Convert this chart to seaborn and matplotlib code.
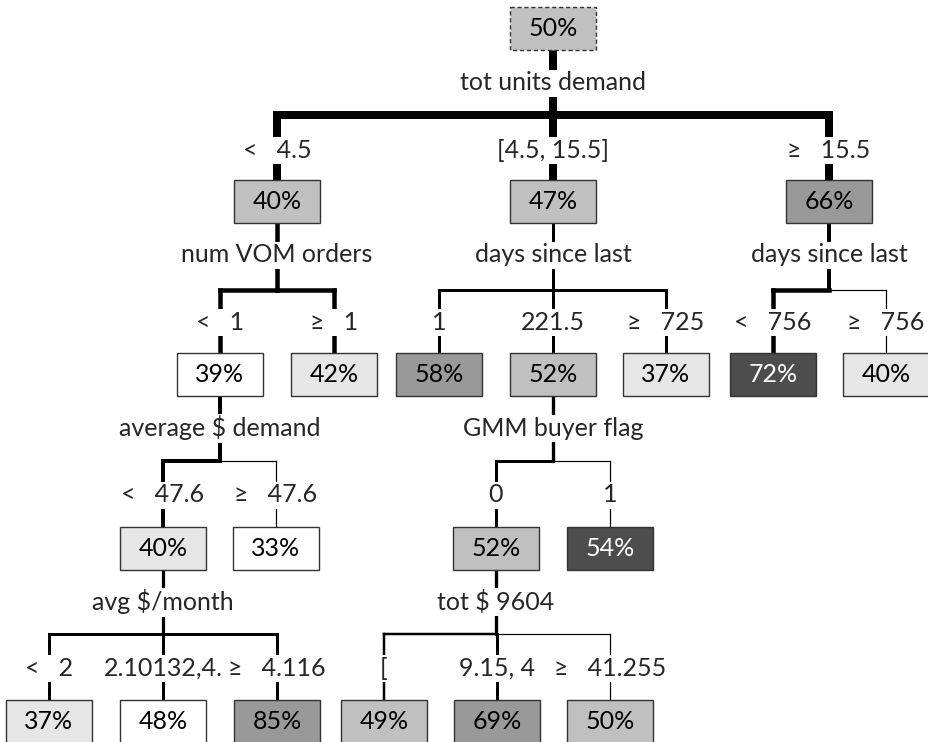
import matplotlib
matplotlib.use("Agg")
import matplotlib.pyplot as plt
from matplotlib.patches import Rectangle
import pandas as pd
import seaborn as sns

# 树的数据：每个节点的百分比、父节点、分支标签
node_pct = [50, 40, 47, 66, 39, 42, 58, 52, 37, 72, 40, 40, 33, 52, 54, 37, 48, 85, 49, 69, 50]
node_parent = [-1, 0, 0, 0, 1, 1, 2, 2, 2, 3, 3, 4, 4, 7, 7, 11, 11, 11, 13, 13, 13]
edge_labels = ["", "<   4.5", "[4.5, 15.5]", "\u2265   15.5", "<   1", "\u2265   1",
               "1", "221.5", "\u2265   725", "<   756", "\u2265   756",
               "<   47.6", "\u2265   47.6", "0", "1",
               "<   2", "2.10132,4.", "\u2265   4.116", "[", "9.15, 4", "\u2265   41.255"]
split_nodes = [0, 1, 2, 3, 4, 7, 11, 13]
split_names = ["tot units demand", "num VOM orders", "days since last", "days since last",
               "average $ demand", "GMM buyer flag", "avg $/month", "tot $ 9604"]

# 节点灰度（填充颜色）
node_fill = ["#c0c0c0", "#c0c0c0", "#c0c0c0", "#999999", "#ffffff", "#e6e6e6", "#999999",
             "#c0c0c0", "#e6e6e6", "#4d4d4d", "#e6e6e6", "#e6e6e6", "#ffffff", "#c0c0c0",
             "#4d4d4d", "#e6e6e6", "#ffffff", "#999999", "#c0c0c0", "#999999", "#c0c0c0"]

# 布局（像素坐标）
node_x = [553, 277, 553, 829, 220, 334, 439, 553, 666, 773, 886,
          163, 276, 496, 610, 49, 163, 277, 384, 497, 610]
box_top = [7, 180, 353, 527, 700]
split_y = [83, 255, 428, 602]
bar_y = [115, 290, 461, 634]
child_label_y = [None, 150, 322, 495, 668]
box_w, box_h = 86, 43

# 线宽（像素）：进入节点的边 / 节点下方的主干
w_in = [0, 8, 8, 8, 4.5, 4.5, 3, 3, 3, 4.5, 1.2, 4, 1.2, 3, 1.2, 3, 3, 3, 2.5, 3, 1.2]
w_out = {0: 8, 1: 4.5, 2: 3, 3: 4, 4: 4, 7: 3.3, 11: 3.2, 13: 3.3}


def depth(i):
    d = 0
    while node_parent[i] != -1:
        i = node_parent[i]
        d += 1
    return d


# 构造线段
rows = []
seg = 0
for p, w in w_out.items():
    d = depth(p)
    rows.append((seg, node_x[p], box_top[d] + box_h, f"{w:g}"))
    rows.append((seg, node_x[p], bar_y[d], f"{w:g}"))
    seg += 1
for c in range(1, len(node_pct)):
    p = node_parent[c]
    d = depth(p)
    wk = f"{w_in[c]:g}"
    if node_x[c] != node_x[p]:
        rows.append((seg, node_x[p], bar_y[d], wk))
        rows.append((seg, node_x[c], bar_y[d], wk))
        seg += 1
    rows.append((seg, node_x[c], bar_y[d], wk))
    rows.append((seg, node_x[c], box_top[d + 1], wk))
    seg += 1
seg_df = pd.DataFrame(rows, columns=["seg", "x", "y", "w"])
size_map = {k: float(k) * 0.72 for k in seg_df["w"].unique()}

sns.set_theme(style="white")
plt.rcParams['font.family'] = ['Lato', 'DejaVu Sans']

fig = plt.figure(figsize=(9.29, 7.42), dpi=100)
ax = fig.add_axes([0, 0, 1, 1])
sns.lineplot(data=seg_df, x="x", y="y", units="seg", estimator=None, size="w",
             sizes=size_map, color="black", legend=False, sort=False, ax=ax,
             solid_capstyle="projecting", zorder=1)

fs = 18
txt_box = dict(facecolor="white", edgecolor="none", pad=1.5)

# 分裂变量标签
for n, name in zip(split_nodes, split_names):
    d = depth(n)
    ax.text(node_x[n], split_y[d], name, ha="center", va="center", fontsize=fs,
            bbox=txt_box, zorder=3)

# 分支标签
for c in range(1, len(node_pct)):
    d = depth(c)
    ax.text(node_x[c], child_label_y[d], edge_labels[c], ha="center", va="center",
            fontsize=fs, bbox=txt_box, zorder=3)

# 节点方框
for i, pct in enumerate(node_pct):
    d = depth(i)
    rect = Rectangle((node_x[i] - box_w / 2, box_top[d]), box_w, box_h,
                     facecolor=node_fill[i], edgecolor="#333333", linewidth=1.0,
                     linestyle=(0, (3, 2)) if i == 0 else "-", zorder=4)
    ax.add_patch(rect)
    tc = "white" if node_fill[i] == "#4d4d4d" else "black"
    ax.text(node_x[i], box_top[d] + box_h / 2, f"{pct}%", ha="center", va="center",
            fontsize=fs, color=tc, zorder=5)

ax.set_xlim(0, 929)
ax.set_ylim(742, 0)
ax.axis("off")

plt.savefig("out.png", dpi=100)
plt.close()
